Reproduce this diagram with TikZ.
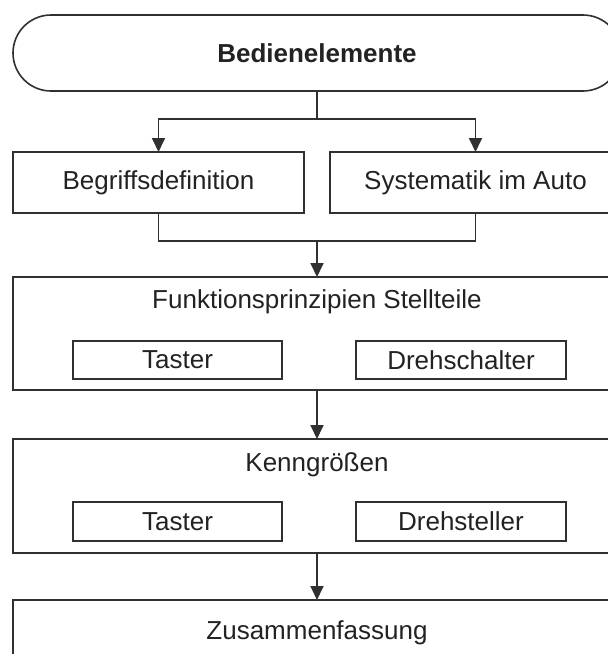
\documentclass[tikz,border=0pt]{standalone}
\usepackage{fontspec}
\setmainfont{Liberation Sans}
\usetikzlibrary{arrows.meta}
\definecolor{ln}{HTML}{303030}
\definecolor{tx}{HTML}{222222}
\begin{document}
\begin{tikzpicture}[x=1pt,y=-1pt,
  box/.style={draw=ln,line width=1.6pt,fill=white,inner sep=0pt,outer sep=0pt,
    font=\fontsize{26}{30}\selectfont,text=tx},
  ttl/.style={inner sep=0pt,font=\fontsize{26}{30}\selectfont,text=tx},
  conn/.style={draw=ln,line width=1.8pt},
  arr/.style={conn,-{Triangle[width=13pt,length=14pt]}}]
\useasboundingbox (0,0) rectangle (608,654);
\clip (0,0) rectangle (608,654);
\fill[white] (0,0) rectangle (608,654);
% top terminator
\node[box,rounded corners=38pt,minimum width=608pt,minimum height=76pt,
  font=\fontsize{26}{30}\selectfont\bfseries] (top) at (317,53) {Bedienelemente};
% second row
\node[box,minimum width=291pt,minimum height=61pt] (b1) at (158.5,182.5) {Begriffsdefinition};
\node[box,minimum width=291pt,minimum height=61pt] (b2) at (475.5,182.5) {Systematik im Auto};
% Funktionsprinzipien
\node[box,minimum width=608pt,minimum height=113pt] (f) at (317,333.5) {};
\node[ttl] (ftitle) at (317,302) {Funktionsprinzipien Stellteile};
\node[box,minimum width=209pt,minimum height=38pt] (ft) at (177.5,360) {Taster};
\node[box,minimum width=210pt,minimum height=38pt] (fd) at (461,360) {Drehschalter};
% Kenngroessen
\node[box,minimum width=608pt,minimum height=114pt] (k) at (317,496) {};
\node[ttl] (ktitle) at (317,465) {Kenngrößen};
\node[box,minimum width=209pt,minimum height=39pt] (kt) at (177.5,521.5) {Taster};
\node[box,minimum width=210pt,minimum height=39pt] (kd) at (461,521.5) {Drehsteller};
% Zusammenfassung
\node[box,minimum width=608pt,minimum height=120pt] (z) at (317,660) {};
\node[ttl] (ztitle) at (317,633) {Zusammenfassung};
% connectors
\coordinate (split) at (317,119);
\coordinate (join) at (317,241);
\draw[conn] (top.south) -- (split);
\draw[arr] (split) -| (b1.north);
\draw[arr] (split) -| (b2.north);
\draw[conn] (b1.south) |- (join);
\draw[conn] (b2.south) |- (join);
\draw[arr] (join) -- (f.north);
\draw[arr] (f.south) -- (k.north);
\draw[arr] (k.south) -- (z.north);
\end{tikzpicture}
\end{document}
